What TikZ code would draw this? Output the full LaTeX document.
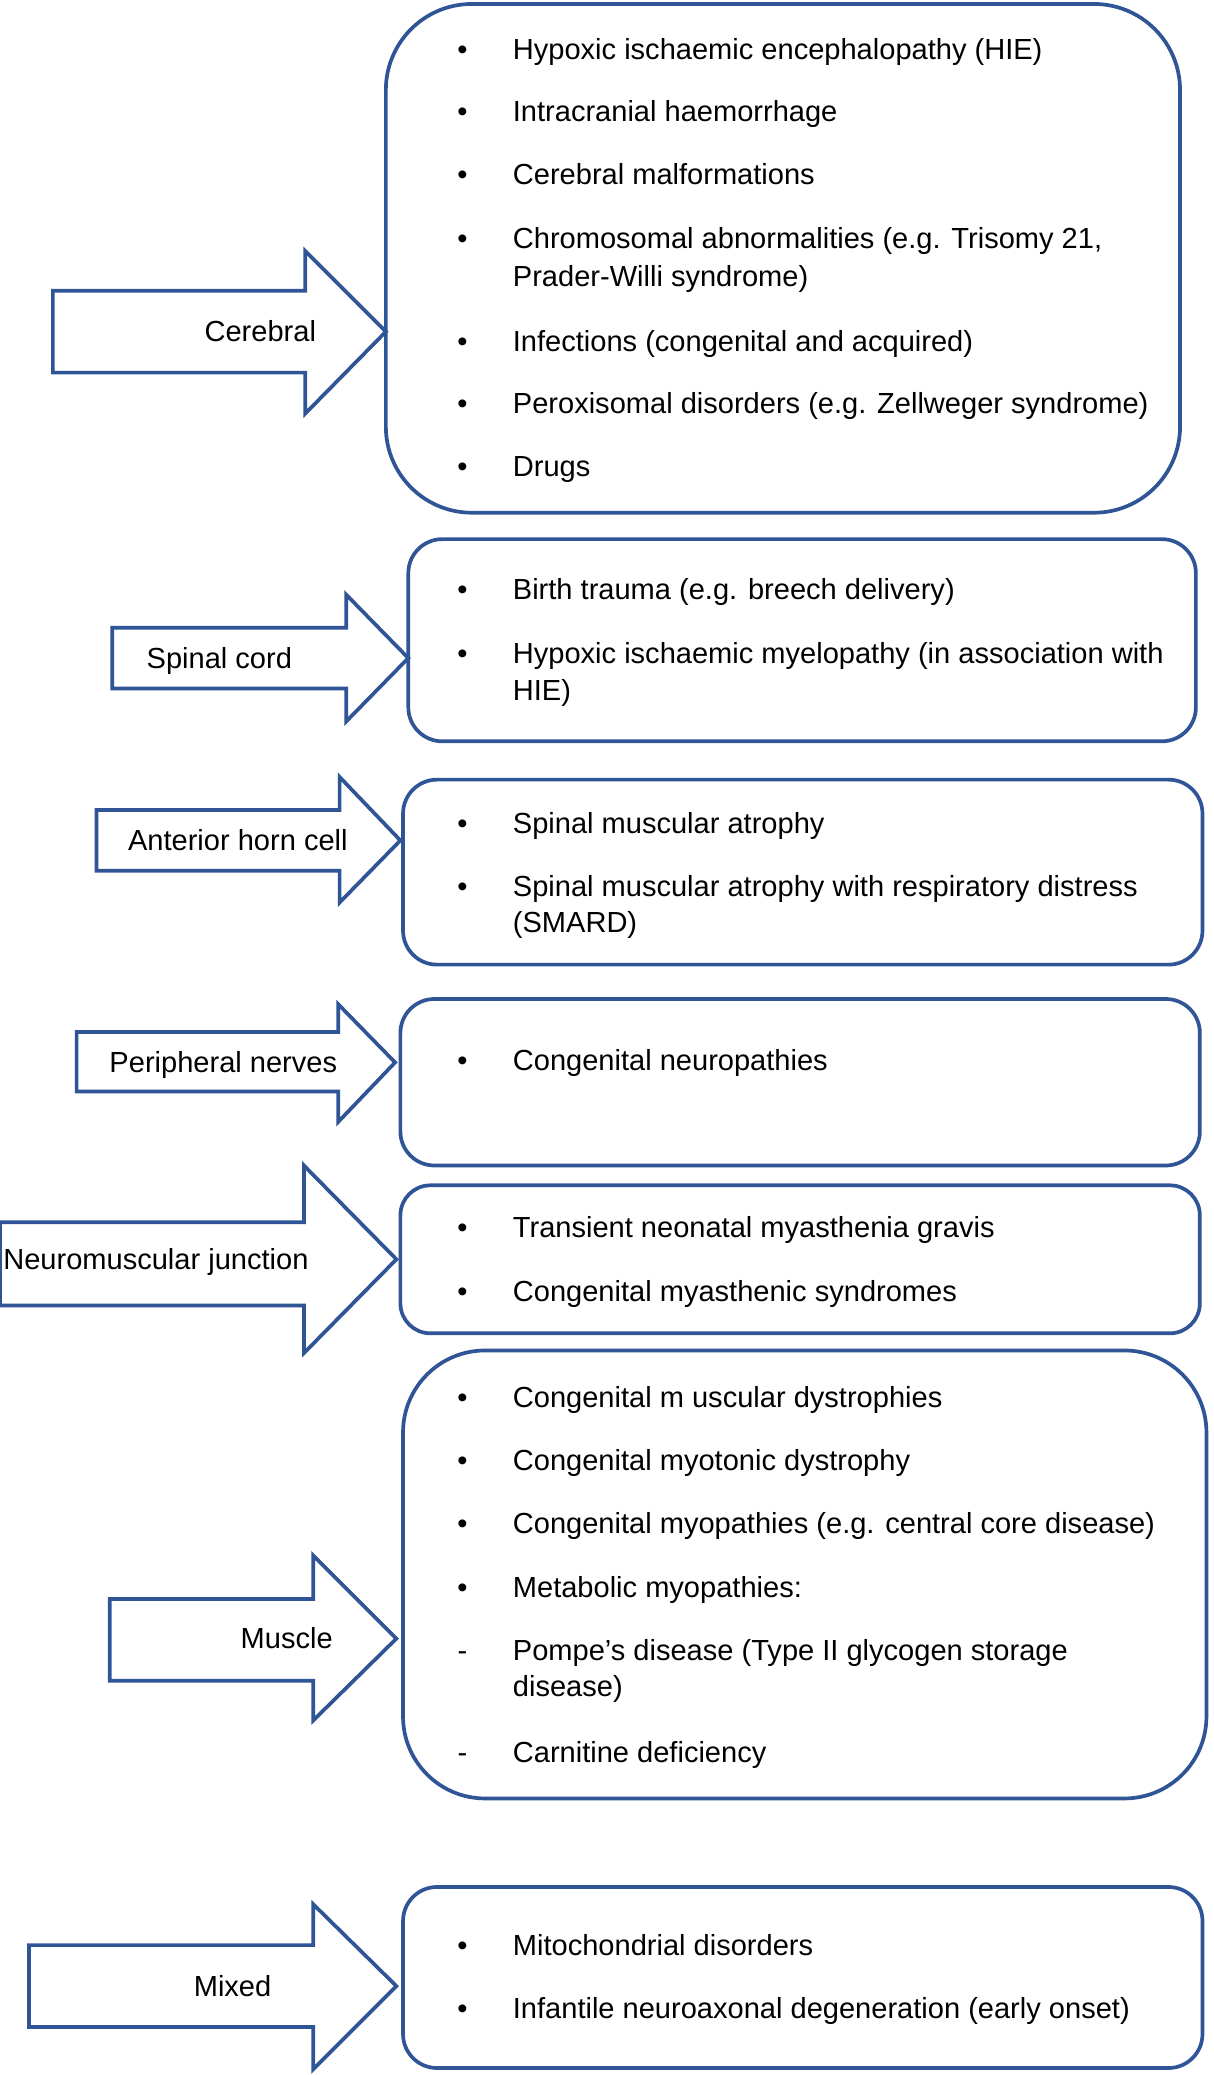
\documentclass[tikz,border=0pt]{standalone}
\usepackage{fontspec}
\setmainfont{Liberation Sans}
\definecolor{ob}{RGB}{47,85,151}
\newcommand{\blockarr}[9]{%
  \draw[boxline] (#2,#4) -- (#3,#4) -- (#3,#6) -- (#8,#9) -- (#3,#7) -- (#3,#5) -- (#2,#5) -- cycle;
  \coordinate (#1) at (#8,#9);}
\newcommand{\rbox}[6]{%
  \draw[boxline,rounded corners=#6] (#2,#3) rectangle (#4,#5);
  \coordinate (#1) at (#2,{(#3+#5)/2});}
\newcommand{\itm}[4]{\node[bul] (#1b) at (350,#2+7.8) {#3}; \node[txt] (#1) at (388,#2+7.8) {#4};}
\newcommand{\cont}[3]{\node[txt] (#1) at (388,#2+7.8) {#3};}
\begin{document}
\begin{tikzpicture}[x=1.3214pt,y=-1.3214pt,
  boxline/.style={draw=ob,line width=3.7pt},
  txt/.style={anchor=base west,inner sep=0pt,font=\fontsize{29.05}{37}\selectfont},
  bul/.style={anchor=base,inner sep=0pt,font=\fontsize{29.05}{37}\selectfont},
  lab/.style={anchor=base,inner sep=0pt,font=\fontsize{29.05}{37}\selectfont}]
\useasboundingbox (0,0) rectangle (918,1570.3);
\fill[white] (0,0) rectangle (918,1570.3);

% Cerebral
\rbox{cerebox}{292}{3}{893}{388}{86pt}
\blockarr{cerearr}{40}{231}{220}{282}{190}{313}{292}{251}
\node[lab] (cerelab) at (197,258.8) {Cerebral};
\itm{c1}{37}{•}{Hypoxic ischaemic encephalopathy (HIE)}
\itm{c2}{84}{•}{Intracranial haemorrhage}
\itm{c3}{132}{•}{Cerebral malformations}
\itm{c4}{180}{•}{Chromosomal abnormalities (e.g. Trisomy 21,}
\cont{c4b}{209}{Prader-Willi syndrome)}
\itm{c5}{258}{•}{Infections (congenital and acquired)}
\itm{c6}{305}{•}{Peroxisomal disorders (e.g. Zellweger syndrome)}
\itm{c7}{353}{•}{Drugs}

% Spinal cord
\rbox{spbox}{309}{408}{905}{561}{34pt}
\blockarr{sparr}{85}{262}{475}{521}{450}{546}{309}{498}
\node[lab] (splab) at (166,505.8) {Spinal cord};
\itm{s1}{446}{•}{Birth trauma (e.g. breech delivery)}
\itm{s2}{494}{•}{Hypoxic ischaemic myelopathy (in association with}
\cont{s2b}{522}{HIE)}

% Anterior horn cell
\rbox{ahbox}{305}{590}{910}{730}{34pt}
\blockarr{aharr}{73}{257}{613}{659}{588}{683}{303}{636}
\node[lab] (ahlab) at (180,643.8) {Anterior horn cell};
\itm{a1}{623}{•}{Spinal muscular atrophy}
\itm{a2}{671}{•}{Spinal muscular atrophy with respiratory distress}
\cont{a2b}{698}{(SMARD)}

% Peripheral nerves
\rbox{pnbox}{303}{756}{908}{882}{34pt}
\blockarr{pnarr}{58}{256}{781}{826}{760}{849}{299}{804}
\node[lab] (pnlab) at (169,811.8) {Peripheral nerves};
\itm{p1}{802}{•}{Congenital neuropathies}

% Neuromuscular junction
\rbox{nmbox}{303}{897}{908}{1009}{30pt}
\blockarr{nmarr}{0}{230}{925}{988}{882}{1024}{300}{953}
\node[lab] (nmlab) at (118,960.8) {Neuromuscular junction};
\itm{n1}{929}{•}{Transient neonatal myasthenia gravis}
\itm{n2}{977}{•}{Congenital myasthenic syndromes}

% Muscle
\rbox{mubox}{305}{1022}{913}{1361}{82pt}
\blockarr{muarr}{83}{237}{1210}{1272}{1177}{1302}{300}{1240}
\node[lab] (mulab) at (217,1247.8) {Muscle};
\itm{m1}{1057}{•}{Congenital m uscular dystrophies}
\itm{m2}{1105}{•}{Congenital myotonic dystrophy}
\itm{m3}{1153}{•}{Congenital myopathies (e.g. central core disease)}
\itm{m4}{1201}{•}{Metabolic myopathies:}
\itm{m5}{1249}{-}{Pompe’s disease (Type II glycogen storage}
\cont{m5b}{1276}{disease)}
\itm{m6}{1326}{-}{Carnitine deficiency}

% Mixed
\rbox{mxbox}{305}{1428}{910}{1565}{34pt}
\blockarr{mxarr}{22}{237}{1472}{1534}{1441}{1566}{300}{1503}
\node[lab] (mxlab) at (176,1510.8) {Mixed};
\itm{x1}{1472}{•}{Mitochondrial disorders}
\itm{x2}{1520}{•}{Infantile neuroaxonal degeneration (early onset)}
\end{tikzpicture}
\end{document}
